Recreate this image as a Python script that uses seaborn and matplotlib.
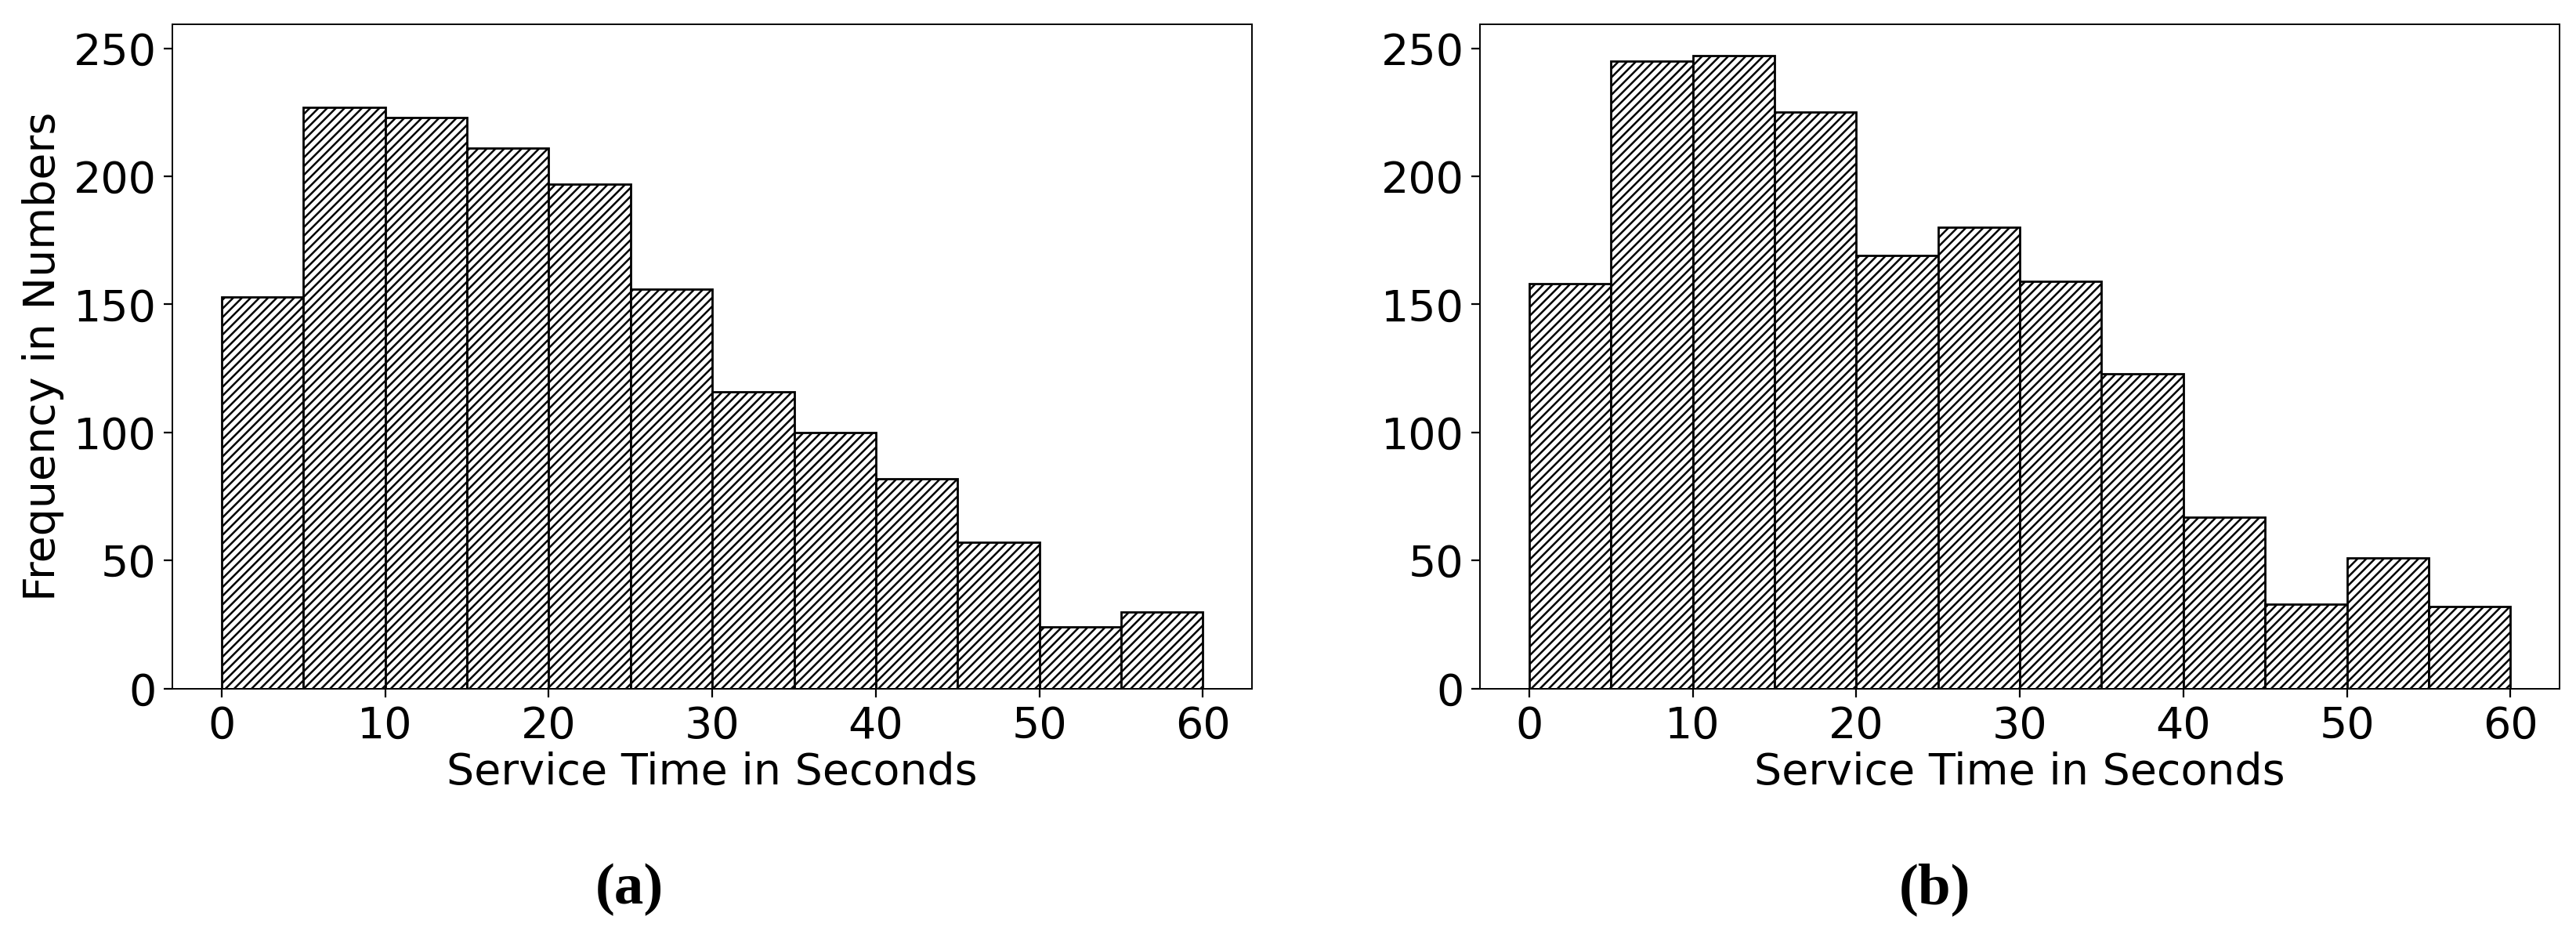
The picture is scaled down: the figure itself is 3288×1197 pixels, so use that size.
import matplotlib
matplotlib.use("Agg")
import matplotlib.pyplot as plt
import numpy as np
import pandas as pd
import seaborn as sns

# histogram counts per 5 s bin
bin_edges = [0, 5, 10, 15, 20, 25, 30, 35, 40, 45, 50, 55, 60]
counts_a = [153, 227, 223, 211, 197, 156, 116, 100, 82, 57, 24, 30]
counts_b = [158, 245, 247, 225, 169, 180, 159, 123, 67, 33, 51, 32]
panel_labels = ["(a)", "(b)"]
label_x = [0.2442, 0.7512]

sns.set_style("ticks")
plt.rcParams["font.family"] = ["DejaVu Sans"]
plt.rcParams["hatch.linewidth"] = 0.9
plt.rcParams["text.color"] = "black"
plt.rcParams["axes.labelcolor"] = "black"
plt.rcParams["xtick.color"] = "black"
plt.rcParams["ytick.color"] = "black"
plt.rcParams["axes.edgecolor"] = "black"

fig, axes = plt.subplots(1, 2, figsize=(16.44, 5.985), dpi=200, sharey=True)
axes[0].set_position([0.067, 0.266, 0.419, 0.708])
axes[1].set_position([0.5746, 0.266, 0.419, 0.708])

centers = np.array(bin_edges[:-1]) + 2.5
for ax, counts, lab, lx in zip(axes, [counts_a, counts_b], panel_labels, label_x):
    df = pd.DataFrame({"time": centers, "n": counts})
    sns.histplot(data=df, x="time", weights="n", bins=bin_edges, ax=ax,
                 color="white", edgecolor="black", linewidth=1.0,
                 hatch="//////", alpha=1)
    ax.set_xlabel("Service Time in Seconds", fontsize=20, labelpad=2)
    ax.set_ylabel("Frequency in Numbers", fontsize=20)
    ax.tick_params(labelsize=20, width=0.8, length=4)
    ax.yaxis.set_tick_params(labelleft=True)
    ax.set_xticks([0, 10, 20, 30, 40, 50, 60])
    ax.set_yticks([0, 50, 100, 150, 200, 250])
    for s in ax.spines.values():
        s.set_linewidth(0.7)
    fig.text(lx, 0.052, lab, ha="center", va="center",
             fontsize=27, fontweight="bold", family=["Liberation Serif"])

fig.savefig("out.png", dpi=200)
